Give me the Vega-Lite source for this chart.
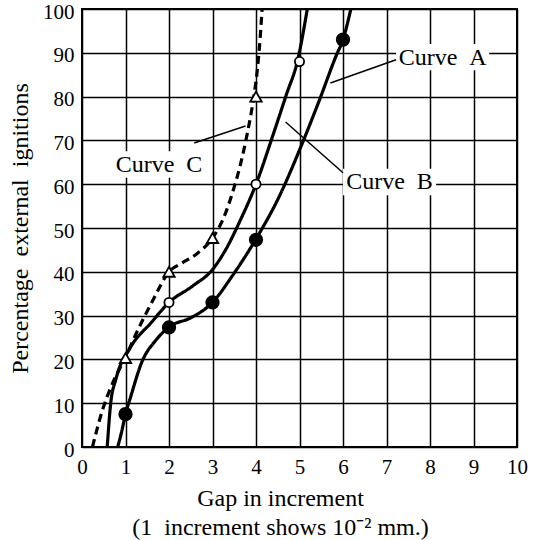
{
  "$schema": "https://vega.github.io/schema/vega-lite/v6.json",
  "autosize": "none",
  "width": 435,
  "height": 438,
  "padding": {"left": 82, "top": 9, "right": 20, "bottom": 93},
  "background": "white",
  "config": {
    "view": {"stroke": "black", "strokeWidth": 2},
    "font": "Liberation Serif",
    "axis": {
      "domain": false,
      "ticks": false,
      "grid": true,
      "gridColor": "black",
      "gridOpacity": 1,
      "gridWidth": 1.5,
      "labelFont": "Liberation Serif",
      "labelFontSize": 21,
      "labelColor": "black",
      "labelPadding": 8,
      "titleFont": "Liberation Serif",
      "titleFontWeight": "normal",
      "titleColor": "black"
    }
  },
  "datasets": {
    "curves": [
      {"curve": "A", "x": 0.82, "y": 0}, {"curve": "A", "x": 0.9, "y": 3}, {"curve": "A", "x": 1.0, "y": 7.5},
      {"curve": "A", "x": 1.12, "y": 11.5}, {"curve": "A", "x": 1.38, "y": 19.5}, {"curve": "A", "x": 1.7, "y": 24.4},
      {"curve": "A", "x": 2.0, "y": 27.4}, {"curve": "A", "x": 2.5, "y": 29.5}, {"curve": "A", "x": 3.0, "y": 33},
      {"curve": "A", "x": 3.45, "y": 39}, {"curve": "A", "x": 4.0, "y": 47.5}, {"curve": "A", "x": 4.5, "y": 56.5},
      {"curve": "A", "x": 5.05, "y": 69}, {"curve": "A", "x": 5.45, "y": 79}, {"curve": "A", "x": 5.85, "y": 89.5},
      {"curve": "A", "x": 6.0, "y": 93}, {"curve": "A", "x": 6.18, "y": 100},
      {"curve": "B", "x": 0.58, "y": 0}, {"curve": "B", "x": 0.66, "y": 10}, {"curve": "B", "x": 0.78, "y": 15.5},
      {"curve": "B", "x": 1.1, "y": 22.5}, {"curve": "B", "x": 1.6, "y": 28.5}, {"curve": "B", "x": 2.0, "y": 33},
      {"curve": "B", "x": 2.55, "y": 36.8}, {"curve": "B", "x": 3.0, "y": 40.5}, {"curve": "B", "x": 3.3, "y": 45},
      {"curve": "B", "x": 3.65, "y": 52}, {"curve": "B", "x": 4.0, "y": 60}, {"curve": "B", "x": 4.4, "y": 71.5},
      {"curve": "B", "x": 4.7, "y": 80.5}, {"curve": "B", "x": 4.95, "y": 88}, {"curve": "B", "x": 5.18, "y": 100},
      {"curve": "C", "x": 0.24, "y": 0}, {"curve": "C", "x": 0.47, "y": 8.4}, {"curve": "C", "x": 0.7, "y": 14.5},
      {"curve": "C", "x": 1.0, "y": 20.5}, {"curve": "C", "x": 1.25, "y": 26}, {"curve": "C", "x": 1.63, "y": 33.5},
      {"curve": "C", "x": 2.0, "y": 40}, {"curve": "C", "x": 2.3, "y": 42}, {"curve": "C", "x": 2.65, "y": 44.2},
      {"curve": "C", "x": 3.0, "y": 47.7}, {"curve": "C", "x": 3.3, "y": 53.4}, {"curve": "C", "x": 3.5, "y": 59.4},
      {"curve": "C", "x": 3.65, "y": 64.8}, {"curve": "C", "x": 3.8, "y": 71.6}, {"curve": "C", "x": 3.95, "y": 80},
      {"curve": "C", "x": 4.04, "y": 87}, {"curve": "C", "x": 4.1, "y": 94}, {"curve": "C", "x": 4.14, "y": 100}
    ],
    "points": [
      {"curve": "A", "x": 1, "y": 7.5}, {"curve": "A", "x": 2, "y": 27.3}, {"curve": "A", "x": 3, "y": 33},
      {"curve": "A", "x": 4, "y": 47.3}, {"curve": "A", "x": 6, "y": 93},
      {"curve": "B", "x": 2, "y": 33}, {"curve": "B", "x": 4, "y": 60}, {"curve": "B", "x": 5, "y": 88},
      {"curve": "C", "x": 1, "y": 20.3}, {"curve": "C", "x": 2, "y": 40}, {"curve": "C", "x": 3, "y": 47.7}, {"curve": "C", "x": 4, "y": 80}
    ],
    "labels": [
      {"label": "Curve\u00a0\u00a0A", "x": 8.29, "y": 88.8, "x1": 7.22, "x2": 9.36, "y1": 86, "y2": 92, "lx": 7.22, "ly": 88.4, "lx2": 5.71, "ly2": 83.1},
      {"label": "Curve\u00a0\u00a0B", "x": 7.07, "y": 60.5, "x1": 6.0, "x2": 8.14, "y1": 57.5, "y2": 63.5, "lx": 6.0, "ly": 62.6, "lx2": 4.68, "ly2": 74.2},
      {"label": "Curve\u00a0\u00a0C", "x": 1.77, "y": 64.4, "x1": 0.7, "x2": 2.84, "y1": 61.5, "y2": 67.5, "lx": 2.58, "ly": 69.4, "lx2": 3.76, "ly2": 73.3}
    ]
  },
  "encoding": {
    "x": {
      "field": "x", "type": "quantitative",
      "scale": {"domain": [0, 10], "nice": false},
      "axis": {
        "values": [0, 1, 2, 3, 4, 5, 6, 7, 8, 9, 10],
        "labelFlush": false,
        "labelPadding": 9,
        "title": ["Gap\u00a0in\u00a0increment", "(1\u00a0\u00a0increment\u00a0shows\u00a010⁻²\u00a0mm.)"],
        "titleFontSize": 24,
        "titleLineHeight": 29,
        "titlePadding": 9,
        "titleX": 198
      }
    },
    "y": {
      "field": "y", "type": "quantitative",
      "scale": {"domain": [0, 100], "nice": false},
      "axis": {
        "values": [0, 10, 20, 30, 40, 50, 60, 70, 80, 90, 100],
        "labelOffset": 3,
        "title": "Percentage\u00a0\u00a0external\u00a0\u00a0ignitions",
        "titleFontSize": 24,
        "titleX": -50
      }
    }
  },
  "layer": [
    {
      "data": {"name": "labels"},
      "mark": {"type": "rect", "fill": "white", "stroke": null},
      "encoding": {
        "x": {"field": "x1", "type": "quantitative"},
        "x2": {"field": "x2"},
        "y": {"field": "y1", "type": "quantitative"},
        "y2": {"field": "y2"}
      }
    },
    {
      "data": {"name": "curves"},
      "mark": {"type": "line", "interpolate": "monotone", "clip": true, "strokeWidth": 3.2, "color": "black"},
      "encoding": {
        "detail": {"field": "curve"},
        "strokeDash": {
          "field": "curve", "type": "nominal",
          "scale": {"domain": ["A", "B", "C"], "range": [[1, 0], [1, 0], [8, 5]]},
          "legend": null
        }
      }
    },
    {
      "data": {"name": "labels"},
      "mark": {"type": "rule", "color": "black", "strokeWidth": 1.5},
      "encoding": {
        "x": {"field": "lx", "type": "quantitative"},
        "y": {"field": "ly", "type": "quantitative"},
        "x2": {"field": "lx2"},
        "y2": {"field": "ly2"}
      }
    },
    {
      "data": {"name": "points"},
      "transform": [{"filter": "datum.curve === 'A'"}],
      "mark": {"type": "point", "shape": "circle", "filled": true, "fill": "black", "stroke": "black", "size": 150, "opacity": 1}
    },
    {
      "data": {"name": "points"},
      "transform": [{"filter": "datum.curve === 'B'"}],
      "mark": {"type": "point", "shape": "circle", "filled": false, "fill": "white", "fillOpacity": 1, "stroke": "black", "strokeWidth": 1.8, "size": 85, "opacity": 1}
    },
    {
      "data": {"name": "points"},
      "transform": [{"filter": "datum.curve === 'C'"}],
      "mark": {"type": "point", "shape": "triangle-up", "filled": false, "fill": "white", "fillOpacity": 1, "stroke": "black", "strokeWidth": 1.8, "size": 130, "opacity": 1}
    },
    {
      "data": {"name": "labels"},
      "mark": {"type": "text", "font": "Liberation Serif", "fontSize": 24, "color": "black", "align": "center", "baseline": "middle"},
      "encoding": {
        "text": {"field": "label"}
      }
    }
  ]
}
